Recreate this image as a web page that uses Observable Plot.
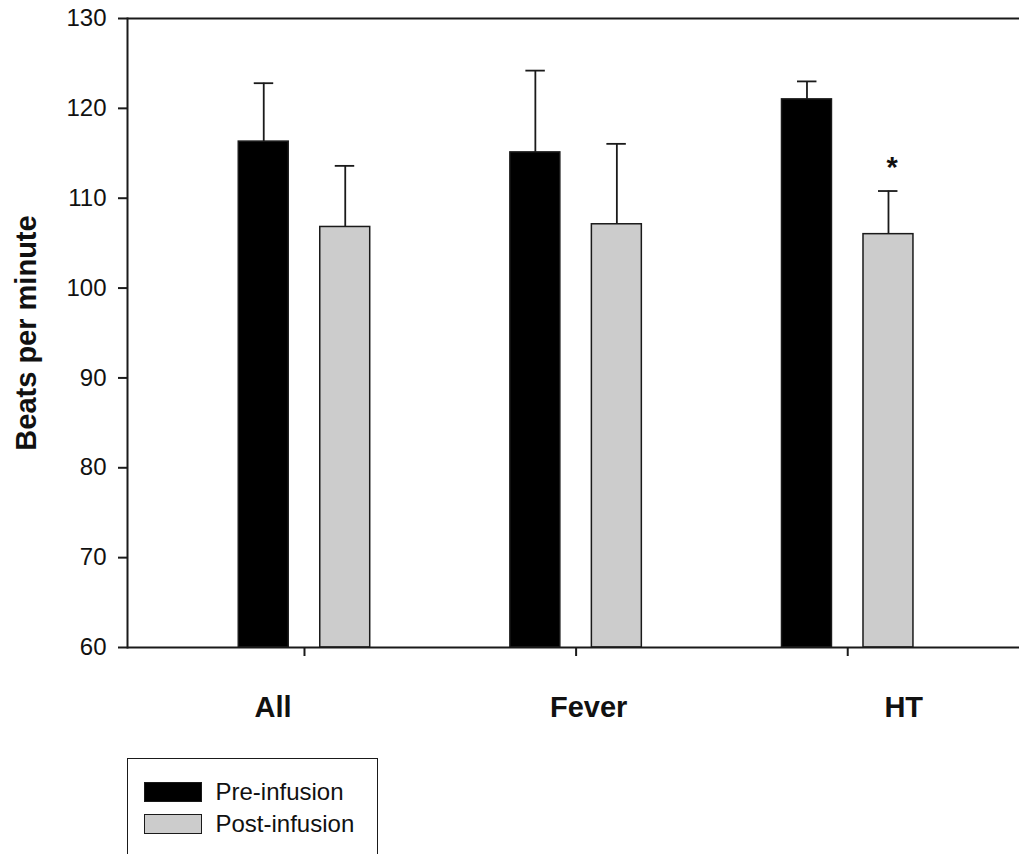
<!DOCTYPE html>
<html><head><meta charset="utf-8">
<script src="https://cdn.jsdelivr.net/npm/d3@7"></script>
<script src="https://cdn.jsdelivr.net/npm/@observablehq/plot@0.6"></script>
<style>
body{margin:0;background:#fff;font-family:"Liberation Sans",Arial,sans-serif;}
#chart svg{display:block}
.legend{position:relative;margin-left:127px;margin-top:13px;width:251px;height:100px;border:1.5px solid #1a1a1a;box-sizing:border-box}
.item{position:absolute;left:15.5px;display:flex;align-items:center}
.sw{width:58px;height:19.5px;border:1.5px solid #1a1a1a;box-sizing:border-box}
.lab{margin-left:14px;font-size:24px;color:#111;line-height:1}
</style></head><body>
<div id="chart"></div>
<div class="legend" id="legend"></div>
<script>
const categories = ["All", "Fever", "HT"];
const seriesNames = ["Pre-infusion", "Post-infusion"];
const preMean = [116.3, 115.1, 121.0];
const preErr = [6.5, 9.1, 2.0];
const postMean = [106.8, 107.1, 106.0];
const postErr = [6.8, 8.95, 4.8];
const postSignificance = ["", "", "*"];
const yTicks = [60, 70, 80, 90, 100, 110, 120, 130];
const yLabel = "Beats per minute";
const seriesColors = ["#000000", "#cccccc"];

const pre = categories.map((c, i) => ({category: c, value: preMean[i], err: preErr[i]}));
const post = categories.map((c, i) => ({category: c, value: postMean[i], err: postErr[i], sig: postSignificance[i]}));
const ink = "#1a1a1a";
const yMin = yTicks[0], yMax = yTicks[yTicks.length - 1];

const chart = Plot.plot({
  width: 1019,
  height: 745,
  marginLeft: 127,
  marginRight: 0,
  marginTop: 18,
  marginBottom: 98,
  style: {fontFamily: "Liberation Sans, Arial, sans-serif", color: "#111", background: "white", overflow: "visible"},
  x: {type: "band", domain: categories, paddingInner: 0.516, paddingOuter: 0.4, align: 0.512, round: false},
  y: {domain: [yMin, yMax]},
  marks: [
    Plot.barY(pre, {x: "category", y1: yMin, y2: "value", fill: seriesColors[0], stroke: ink, strokeWidth: 1.5, insetRight: 81.5}),
    Plot.barY(post, {x: "category", y1: yMin, y2: "value", fill: seriesColors[1], stroke: ink, strokeWidth: 1.5, insetLeft: 81.5}),
    Plot.ruleX(pre, {x: "category", y1: "value", y2: d => d.value + d.err, dx: -40.75, stroke: ink, strokeWidth: 1.8}),
    Plot.ruleX(post, {x: "category", y1: "value", y2: d => d.value + d.err, dx: 40.75, stroke: ink, strokeWidth: 1.8}),
    Plot.tickY(pre, {x: "category", y: d => d.value + d.err, insetLeft: 15.5, insetRight: 96.5, stroke: ink, strokeWidth: 1.8}),
    Plot.tickY(post, {x: "category", y: d => d.value + d.err, insetLeft: 96.5, insetRight: 15.5, stroke: ink, strokeWidth: 1.8}),
    Plot.text(post.filter(d => d.sig), {x: "category", y: d => d.value + d.err, text: "sig", dx: 44.5, dy: -23, fontSize: 29, fontWeight: "bold", fill: "#111"}),
    Plot.frame({anchor: "left", stroke: ink, strokeWidth: 2}),
    Plot.ruleY([yMin, yMax], {stroke: ink, strokeWidth: 2}),
    Plot.axisY({ticks: yTicks, tickSize: 9, tickPadding: 12, fontSize: 24, label: null, stroke: ink, strokeWidth: 2}),
    Plot.axisX({tickSize: 9, tickFormat: () => "", label: null, stroke: ink, strokeWidth: 2}),
    Plot.text([categories[0]], {x: d => d, frameAnchor: "bottom", lineAnchor: "top", dy: 49, dx: -31.5, fontSize: 29, fontWeight: "bold", fill: "#111"}),
    Plot.text([categories[1]], {x: d => d, frameAnchor: "bottom", lineAnchor: "top", dy: 49, dx: 12.5, fontSize: 29, fontWeight: "bold", fill: "#111"}),
    Plot.text([categories[2]], {x: d => d, frameAnchor: "bottom", lineAnchor: "top", dy: 49, dx: 56, fontSize: 29, fontWeight: "bold", fill: "#111"}),
    Plot.text([yLabel], {frameAnchor: "left", textAnchor: "middle", rotate: -90, dx: -101, fontSize: 29, fontWeight: "bold", fill: "#111"})
  ]
});
document.getElementById("chart").appendChild(chart);

const legend = document.getElementById("legend");
const tops = [21, 53];
seriesNames.forEach((name, i) => {
  const item = document.createElement("div");
  item.className = "item";
  item.style.top = tops[i] + "px";
  const sw = document.createElement("div");
  sw.className = "sw";
  sw.style.background = seriesColors[i];
  const lab = document.createElement("span");
  lab.className = "lab";
  lab.textContent = name;
  item.appendChild(sw);
  item.appendChild(lab);
  legend.appendChild(item);
});
</script>
</body></html>
